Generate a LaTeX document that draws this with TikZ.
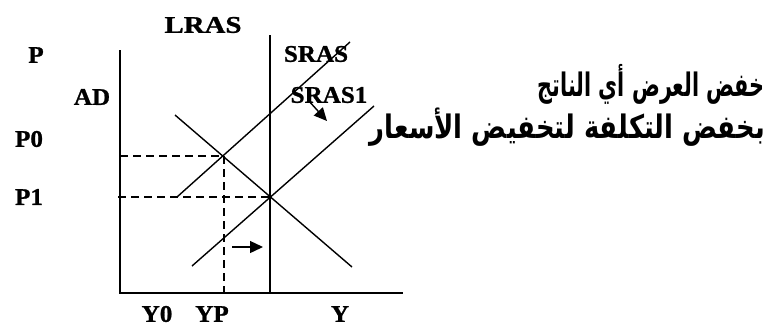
\documentclass[tikz,border=0pt]{standalone}
\usepackage{fontspec}
\setmainfont{Liberation Serif}[BoldFont={Liberation Serif Bold}]
\newfontfamily\lblfont{Liberation Serif Bold}[FakeBold=1]
\newfontfamily\arabicfont[Script=Arabic]{DejaVu Sans Bold}
\TeXXeTstate=1
\usetikzlibrary{arrows.meta}
\begin{document}
\begin{tikzpicture}[x=1bp,y=-1bp,
  ln/.style={line width=1.4bp},
  dsh/.style={line width=1.4bp, dash pattern=on 8bp off 5bp},
  lbl/.style={font=\lblfont\fontsize{24}{26}\selectfont, inner sep=0pt, xscale=1.05, transform shape},
  arl/.style={font=\arabicfont\fontsize{26}{30}\selectfont, inner sep=0pt, anchor=east, yscale=1.25, transform shape},
  tip/.style={-{Triangle[length=13bp,width=12bp]}}]
\useasboundingbox (0,0) rectangle (773,326);
% axes
\coordinate (O) at (120,293);
\coordinate (Ptop) at (120,50);
\coordinate (Xend) at (403,293);
\draw[ln] (Ptop) -- (O) -- (Xend);
% LRAS
\coordinate (L1) at (270,35);
\coordinate (L2) at (270,293);
\draw[ln] (L1) -- (L2);
% SRAS
\coordinate (S1) at (177,197);
\coordinate (S2) at (350,42);
\draw[ln] (S1) -- (S2);
% SRAS1
\coordinate (T1) at (192,266);
\coordinate (T2) at (374,106);
\draw[ln] (T1) -- (T2);
% AD
\coordinate (A1) at (175,115);
\coordinate (A2) at (352,267);
\draw[ln] (A1) -- (A2);
% dashed
\coordinate (P0a) at (120,156);
\coordinate (E0) at (224,156);
\coordinate (E0b) at (224,293);
\coordinate (P1a) at (118,197);
\coordinate (E1) at (270,197);
\draw[dsh] (P0a) -- (E0) -- (E0b);
\draw[dsh] (P1a) -- (E1);
% arrows
\coordinate (ar1) at (232,247);
\coordinate (ar2) at (263,247);
\draw[ln,tip] (ar1) -- (ar2);
\coordinate (ar3) at (308,100);
\coordinate (ar4) at (327,121);
\draw[ln,tip] (ar3) -- (ar4);
% labels
\node[lbl,xscale=1.15] (lras) at (203,25) {LRAS};
\node[lbl] (p) at (36,55) {P};
\node[lbl] (ad) at (92,97) {AD};
\node[lbl] (p0) at (29,139) {P0};
\node[lbl] (p1) at (29,197) {P1};
\node[lbl] (sras) at (316,54) {SRAS};
\node[lbl] (sras1) at (329,95) {SRAS1};
\node[lbl] (y0) at (157,314) {Y0};
\node[lbl] (yp) at (212,314) {YP};
\node[lbl] (y) at (340,314) {Y};
% Arabic text
\node[arl,xscale=0.8] (ar1t) at (765,84) {\beginR خفض العرض أي الناتج\endR};
\node[arl] (ar2t) at (765,127) {\beginR بخفض التكلفة لتخفيض الأسعار\endR};
\end{tikzpicture}
\end{document}
